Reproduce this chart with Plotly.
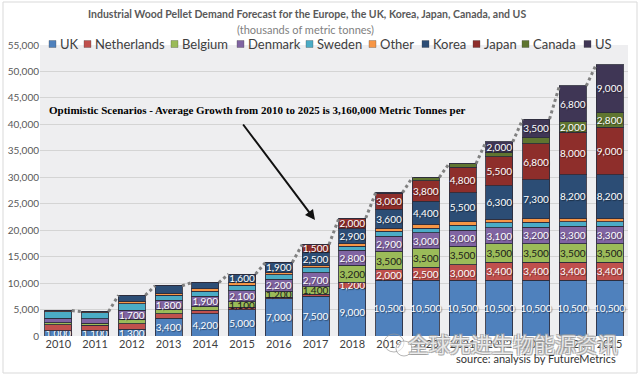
import plotly.graph_objects as go

# ---------------- data ----------------
years = ["2010", "2011", "2012", "2013", "2014", "2015", "2016", "2017",
         "2018", "2019", "2020", "2021", "2022", "2023", "2024", "2025"]
series_names = ["UK", "Netherlands", "Belgium", "Denmark", "Sweden",
                "Other", "Korea", "Japan", "Canada", "US"]

uk = [1000, 1100, 1300, 3400, 4200, 5000, 7000, 7500, 9000,
      10500, 10500, 10500, 10500, 10500, 10500, 10500]
netherlands = [1100, 900, 1000, 800, 700, 400, 300, 400, 1200,
               2000, 2500, 3000, 3400, 3400, 3400, 3400]
belgium = [400, 400, 900, 800, 700, 1100, 1200, 1400, 3200,
           3500, 3500, 3500, 3500, 3500, 3500, 3500]
denmark = [900, 900, 1700, 1800, 1900, 2100, 2200, 2700, 2800,
           2900, 3000, 3000, 3100, 3200, 3300, 3300]
sweden = [1200, 1100, 1200, 900, 1000, 1000, 900, 900, 800,
          900, 900, 900, 900, 900, 900, 900]
other = [200, 200, 500, 400, 400, 500, 400, 400, 400,
         600, 700, 700, 700, 700, 700, 700]
korea = [0, 0, 1100, 1400, 1200, 1600, 1900, 2500, 2900,
         3600, 4400, 5500, 6300, 7300, 8200, 8200]
japan = [0, 0, 0, 0, 0, 0, 0, 1500, 2000,
         3000, 3800, 4800, 5500, 6800, 8000, 9000]
canada = [0, 0, 0, 0, 0, 0, 0, 0, 0,
          100, 700, 700, 800, 1200, 2000, 2800]
us = [0, 0, 0, 0, 0, 0, 0, 0, 0,
      0, 0, 0, 2000, 3500, 6800, 9000]

series_values = [uk, netherlands, belgium, denmark, sweden,
                 other, korea, japan, canada, us]

# ---------------- styles ----------------
colors = ["#4F81BD", "#C0504D", "#9BBB59", "#8064A2", "#4BACC6",
          "#F79646", "#2C4D75", "#8E2E2B", "#5F7530", "#3F3655"]
label_colors = ["white", "white", "#1a1a1a", "white", "white",
                "white", "white", "white", "white", "white"]
label_min = [0, 1200, 1100, 1500, 10 ** 9, 10 ** 9, 1500, 1500, 2000, 2000]

W, H = 640, 378
L, R, T, B = 40, 12, 45, 42
PW, PH = W - L - R, H - T - B


def px(xp):
    return (xp - L) / PW


def py(yp):
    return (H - B - yp) / PH


xpos = list(range(len(years)))
HALF = 0.365

fig = go.Figure()
for name, vals, col, tcol, thr in zip(series_names, series_values, colors,
                                      label_colors, label_min):
    texts = [f"{v:,}" if (v >= thr and v > 0) else "" for v in vals]
    fig.add_trace(go.Bar(
        x=xpos, y=vals, name=name, marker_color=col,
        marker_line=dict(color="rgba(45,45,60,0.85)", width=1),
        text=texts, textposition="inside", insidetextanchor="middle",
        textangle=0,
        insidetextfont=dict(family="Lato", size=10, color=tcol,
                            shadow="1px 1px 1px rgba(0,0,0,0.45)" if tcol == "white" else "none"),
        showlegend=False, hoverinfo="skip",
    ))

totals = [sum(s[i] for s in series_values) for i in range(len(years))]
lx, ly = [], []
for i in range(len(years) - 1):
    lx += [i + HALF, i + 1 - HALF, None]
    ly += [totals[i], totals[i + 1], None]
fig.add_trace(go.Scatter(x=lx, y=ly, mode="lines",
                         line=dict(color="#808080", width=3, dash="3px,3px"),
                         showlegend=False, hoverinfo="skip"))

fig.update_layout(
    width=W, height=H, autosize=False,
    margin=dict(l=L, r=R, t=T, b=B, autoexpand=False),
    barmode="stack", bargap=0.27,
    paper_bgcolor="white", plot_bgcolor="#EEEEF0",
    uniformtext=dict(minsize=10, mode="show"),
    font=dict(family="Lato", color="#595959"),
    xaxis=dict(range=[-0.5, len(years) - 0.5], tickvals=xpos, ticktext=years,
               showgrid=False, zeroline=False, showline=False, ticks="",
               automargin=False,
               tickfont=dict(size=11, color="#404040")),
    yaxis=dict(range=[0, 55000], dtick=5000, tickformat=",",
               gridcolor="#D4D4D4", gridwidth=1, zeroline=False,
               showline=False, ticks="", automargin=False,
               tickfont=dict(size=10, color="#595959")),
)

# outer border
fig.add_shape(type="rect", xref="paper", yref="paper",
              x0=px(3), x1=px(637), y0=py(373), y1=py(2),
              line=dict(color="#D9D9D9", width=1), layer="below")


def note(x, y, text, xanchor="center", **font):
    fig.add_annotation(xref="paper", yref="paper", x=px(x), y=py(y),
                       xanchor=xanchor, yanchor="middle", text=text,
                       showarrow=False, font=font)


# titles
note(307, 14, "<b>Industrial Wood Pellet Demand Forecast for the Europe, the UK, Korea, Japan, Canada, and US</b>",
     family="Lato", size=10.5, color="#595959")
note(305, 30, "(thousands of metric tonnes)", family="Lato", size=11, color="#7F7F7F")

# custom legend
legend_left = [49, 84, 171, 237, 306, 369, 422, 473, 522, 584]
for name, col, xl in zip(series_names, colors, legend_left):
    fig.add_shape(type="rect", xref="paper", yref="paper",
                  x0=px(xl), x1=px(xl + 7), y0=py(47.5), y1=py(40.5),
                  fillcolor=col, line=dict(color="rgba(60,60,60,0.6)", width=0.5))
    note(xl + 9, 44, name, xanchor="left", family="Lato", size=13, color="#404040")

# scenario note + arrow
note(47, 110, "<b>Optimistic Scenarios - Average Growth from 2010 to 2025 is 3,160,000 Metric Tonnes per</b>",
     xanchor="left", family="Liberation Serif", size=11, color="black")
fig.add_annotation(xref="paper", yref="paper", x=px(315), y=py(220),
                   ax=242 - 315, ay=123 - 220, text="", showarrow=True,
                   arrowhead=2, arrowsize=1, arrowwidth=2, arrowcolor="#111111")

# watermark and source
fig.add_shape(type="circle", xref="paper", yref="paper",
              x0=px(384), x1=px(404), y0=py(352), y1=py(334),
              line=dict(color="rgba(150,150,150,0.7)", width=1))
fig.add_shape(type="circle", xref="paper", yref="paper",
              x0=px(396), x1=px(412), y0=py(356), y1=py(341),
              line=dict(color="rgba(150,150,150,0.7)", width=1),
              fillcolor="rgba(255,255,255,0.6)")
note(513, 343, "全球先进生物能源资讯", family="Noto Sans CJK SC", size=21,
     color="rgba(255,255,255,0.75)",
     shadow="-1px -1px 0 #9a9a9a, 1px 1px 0 #9a9a9a, 1px -1px 0 #9a9a9a, -1px 1px 0 #9a9a9a")
note(618, 358, "source: analysis by FutureMetrics", xanchor="right",
     family="Lato", size=11, color="#333333")

fig.write_html("out.html", config={"displayModeBar": False},
               post_script="document.body.style.margin='0';")
